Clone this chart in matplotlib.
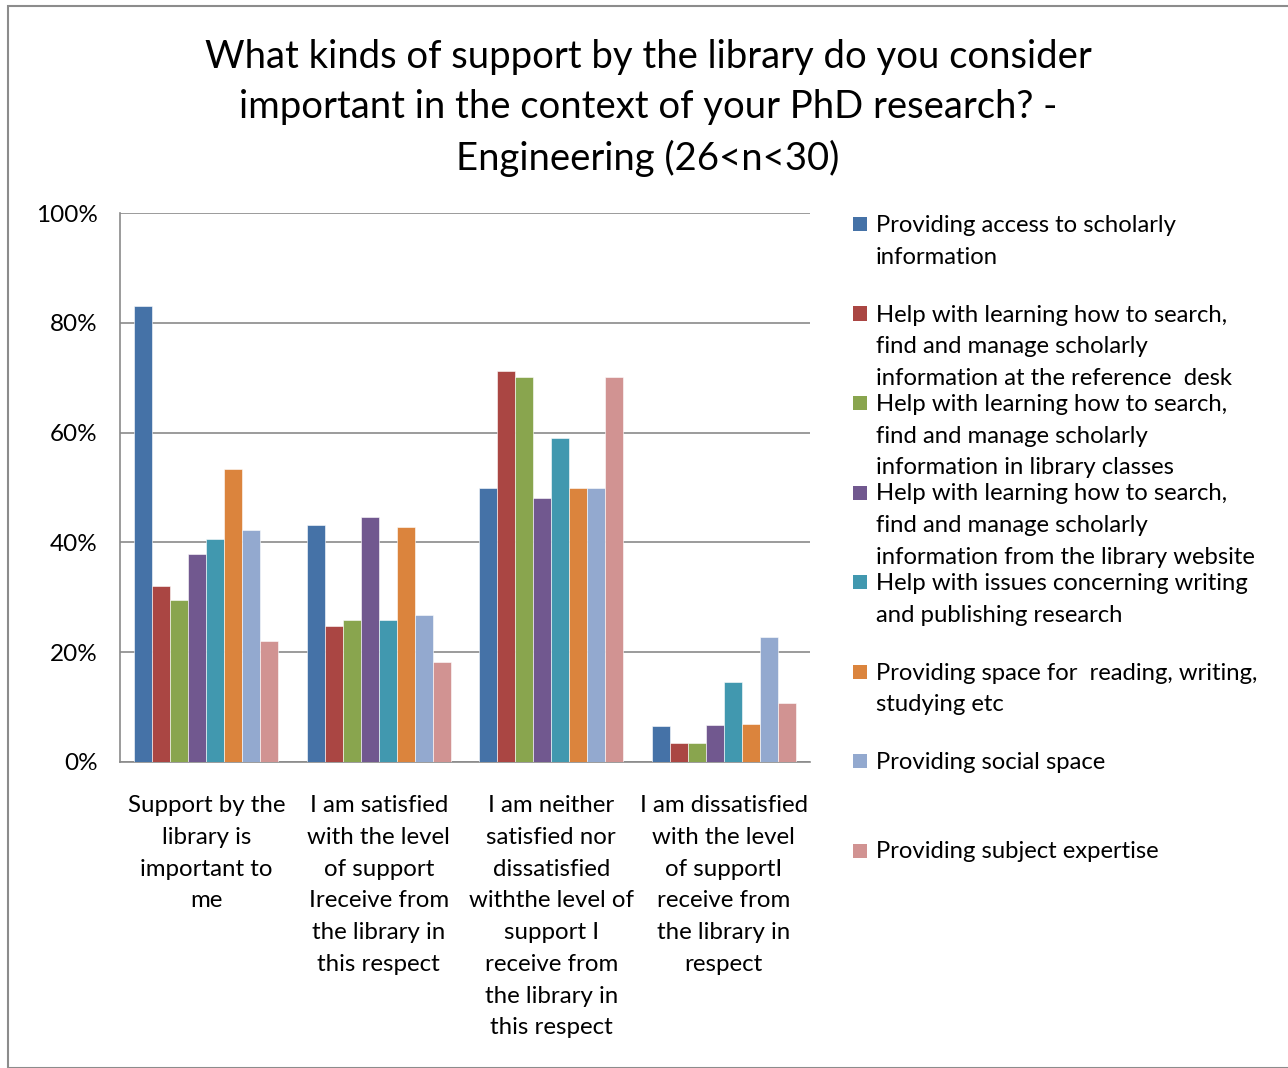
import numpy as np
import matplotlib.pyplot as plt
from matplotlib.patches import Rectangle
from matplotlib.ticker import PercentFormatter

##### Data #####
categories = [
    'Support by the\nlibrary is\nimportant to\nme',
    'I am satisfied\nwith the level\nof support\nIreceive from\nthe library in\nthis respect',
    'I am neither\nsatisfied nor\ndissatisfied\nwiththe level of\nsupport I\nreceive from\nthe library in\nthis respect',
    'I am dissatisfied\nwith the level\nof supportI\nreceive from\nthe library in\nrespect',
]

series_names = [
    'Providing access to scholarly\ninformation',
    'Help with learning how to search,\nfind and manage scholarly\ninformation at the reference  desk',
    'Help with learning how to search,\nfind and manage scholarly\ninformation in library classes',
    'Help with learning how to search,\nfind and manage scholarly\ninformation from the library website',
    'Help with issues concerning writing\nand publishing research',
    'Providing space for  reading, writing,\nstudying etc',
    'Providing social space',
    'Providing subject expertise',
]

access = [83.0, 43.1, 50.0, 6.5]
ref_desk = [32.0, 24.8, 71.3, 3.5]
classes = [29.5, 25.8, 70.1, 3.5]
website = [37.8, 44.6, 48.1, 6.7]
writing = [40.6, 25.8, 59.0, 14.5]
space = [53.3, 42.8, 50.0, 6.9]
social = [42.2, 26.7, 50.0, 22.8]
expertise = [22.1, 18.2, 70.1, 10.8]
values = [access, ref_desk, classes, website, writing, space, social, expertise]

colors = ['#4572A7', '#AA4643', '#89A54E', '#71588F',
          '#4198AF', '#DB843D', '#93A9CF', '#D19392']

##### Plot #####
plt.rcParams['font.family'] = ['Lato', 'DejaVu Sans']

fig = plt.figure(figsize=(12.88, 10.68), dpi=100)
W, H = 1288, 1068

# outer chart border
fig.patches.append(Rectangle((8 / W, 0), 1.2, (H - 6) / H, transform=fig.transFigure,
                             fill=False, edgecolor='#8c8c8c', linewidth=1.5))

ax = fig.add_axes([120 / W, 1 - 762 / H, 690 / W, 549 / H])

x = np.arange(len(categories))
bw = 0.104
for i, (vals, col) in enumerate(zip(values, colors)):
    ax.bar(x + (i - 3.5) * bw, vals, width=bw, color=col,
           edgecolor='white', linewidth=0.4, zorder=3)

ax.set_xlim(-0.5, len(categories) - 0.5)
ax.set_ylim(0, 100)
ax.set_yticks(np.arange(0, 101, 20))
ax.yaxis.set_major_formatter(PercentFormatter(decimals=0))
ax.grid(axis='y', color='#8a8a8a', linewidth=1.2, zorder=0)
ax.set_xticks(x)
ax.set_xticklabels(categories, fontsize=17.3, linespacing=1.63, va='top')
ax.tick_params(axis='x', length=0, pad=24)
ax.tick_params(axis='y', length=0, pad=16, labelsize=17.5)
for side in ['top', 'right']:
    ax.spines[side].set_visible(False)
for side in ['left', 'bottom']:
    ax.spines[side].set_color('#8a8a8a')
    ax.spines[side].set_linewidth(1.2)

fig.text(648 / W, 1 - 39 / H,
         'What kinds of support by the library do you consider\n'
         'important in the context of your PhD research? -\n'
         'Engineering (26<n<30)',
         ha='center', va='top', fontsize=27.5, linespacing=1.49)

# legend: equal slots like the original
for i, (name, col) in enumerate(zip(series_names, colors)):
    ytop = 224 + i * 89.5
    fig.patches.append(Rectangle((853 / W, 1 - (ytop + 7) / H), 14 / W, 14 / H,
                                 transform=fig.transFigure, facecolor=col,
                                 edgecolor='none'))
    fig.text(876 / W, 1 - (ytop - 9) / H, name, ha='left', va='top',
             fontsize=17.2, linespacing=1.63)

fig.savefig('out.png', dpi=100)
